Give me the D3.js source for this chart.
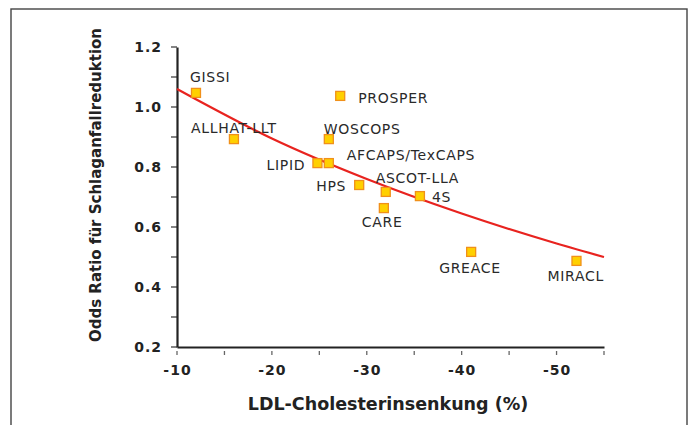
<!DOCTYPE html>
<html><head><meta charset="utf-8">
<script src="https://cdn.jsdelivr.net/npm/d3@7"></script>
<style>body{margin:0;background:#fff;} svg{display:block;}</style>
</head><body>
<svg id="c" width="691" height="425"></svg>
<script>
const studies = ["GISSI","ALLHAT-LLT","PROSPER","WOSCOPS","LIPID","AFCAPS/TexCAPS","HPS","ASCOT-LLA","4S","CARE","GREACE","MIRACL"];
const ldlReduction = [-12.0,-16.0,-27.2,-26.0,-24.8,-26.0,-29.2,-32.0,-35.6,-31.8,-41.0,-52.1];
const oddsRatio = [1.047,0.893,1.037,0.893,0.813,0.813,0.740,0.717,0.703,0.663,0.517,0.487];
// label offsets in px relative to marker centre [dx, dy] (text-anchor start, vertically centred)
const labelDx = [-6,-43,18,-5,-51,18,-43,-10,12,-22,-32,-29];
const labelDy = [-16,-11,2,-10,2,-8,1,-14,1,14,16,15];
const trendX = [-10,-20,-30,-40,-50,-55];
const trendY = [1.06,0.895,0.76,0.645,0.545,0.50];
const xTicks = [-10,-20,-30,-40,-50];
const yTicks = [0.2,0.4,0.6,0.8,1.0,1.2];

const svg = d3.select("#c");
svg.append("rect").attr("x",11).attr("y",9).attr("width",676).attr("height",430)
  .attr("fill","none").attr("stroke","#444").attr("stroke-width",1.4);

const x = d3.scaleLinear().domain([-10,-55]).range([177,604]);
const y = d3.scaleLinear().domain([0.2,1.2]).range([347,47]);

// y minor ticks
svg.append("g").selectAll("line").data(d3.range(2,13).map(v=>v/10)).join("line")
  .attr("x1",171).attr("x2",177).attr("y1",d=>y(d)).attr("y2",d=>y(d))
  .attr("stroke","#333").attr("stroke-width",1.2);
// x minor ticks (dots below)
svg.append("g").selectAll("line").data(d3.range(-10,-56,-5)).join("line")
  .attr("x1",d=>x(d)).attr("x2",d=>x(d)).attr("y1",351).attr("y2",355)
  .attr("stroke","#666").attr("stroke-width",1.3);

const yAxis = d3.axisLeft(y).tickValues(yTicks).tickSize(0).tickPadding(15).tickFormat(d=>d.toFixed(1));
const gy = svg.append("g").attr("transform","translate(177,0)").call(yAxis);
gy.select(".domain").attr("stroke","#222").attr("stroke-width",2.2);
gy.selectAll("text").attr("font-family","DejaVu Sans").attr("font-weight","bold").attr("font-size",14)
  .attr("letter-spacing",1).attr("fill","#222");

const xAxis = d3.axisBottom(x).tickValues(xTicks).tickSize(0).tickPadding(18).tickFormat(d=>String(d));
const gx = svg.append("g").attr("transform","translate(0,347)").call(xAxis);
gx.select(".domain").attr("stroke","#222").attr("stroke-width",2.2);
gx.selectAll("text").attr("font-family","DejaVu Sans").attr("font-weight","bold").attr("font-size",14)
  .attr("letter-spacing",1).attr("fill","#222");

// trend line
const line = d3.line().x(d=>x(d[0])).y(d=>y(d[1])).curve(d3.curveMonotoneX);
svg.append("path").datum(trendX.map((v,i)=>[v,trendY[i]])).attr("d",line)
  .attr("fill","none").attr("stroke","#e8231f").attr("stroke-width",2.2);

// markers
const pts = studies.map((s,i)=>({s, x:ldlReduction[i], y:oddsRatio[i], dx:labelDx[i], dy:labelDy[i]}));
svg.append("g").selectAll("rect").data(pts).join("rect")
  .attr("x",d=>x(d.x)-4.5).attr("y",d=>y(d.y)-4.5).attr("width",9).attr("height",9)
  .attr("fill","#ffd000").attr("stroke","#f0901a").attr("stroke-width",1.3);
svg.append("g").selectAll("text").data(pts).join("text")
  .attr("x",d=>x(d.x)+d.dx).attr("y",d=>y(d.y)+d.dy)
  .attr("dy","0.36em")
  .attr("font-family","DejaVu Sans").attr("font-size",14).attr("letter-spacing",0.7).attr("fill","#2a2a2a")
  .text(d=>d.s);

// titles
svg.append("text").attr("transform","translate(101,185) rotate(-90)").attr("text-anchor","middle")
  .attr("font-family","DejaVu Sans").attr("font-weight","bold").attr("font-size",15).attr("fill","#222")
  .text("Odds Ratio für Schlaganfallreduktion");
svg.append("text").attr("x",388).attr("y",410).attr("text-anchor","middle")
  .attr("font-family","DejaVu Sans").attr("font-weight","bold").attr("font-size",17.5).attr("fill","#222")
  .text("LDL-Cholesterinsenkung (%)");
</script>
</body></html>
